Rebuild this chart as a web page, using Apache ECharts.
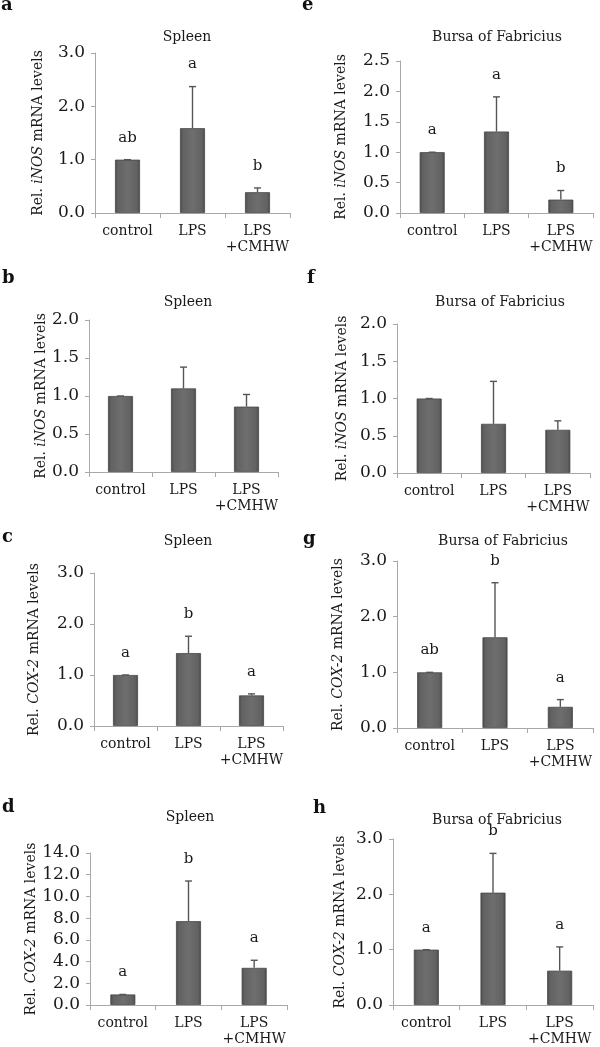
<!DOCTYPE html>
<html>
<head>
<meta charset="utf-8">
<script src="https://cdn.jsdelivr.net/npm/echarts@6/dist/echarts.min.js"></script>
<style>
html,body{margin:0;padding:0;background:#fff;}
#chart{width:600px;height:1047px;}
</style>
</head>
<body>
<div id="chart"></div>
<script>
// ---- data ----
const categories = ['control', 'LPS', 'LPS\n+CMHW'];

const aMean = [1.0, 1.59, 0.39];
const aSD   = [0.0, 0.78, 0.08];
const aSig  = ['ab', 'a', 'b'];

const eMean = [1.0, 1.34, 0.22];
const eSD   = [0.0, 0.57, 0.15];
const eSig  = ['a', 'a', 'b'];

const bMean = [1.0, 1.10, 0.86];
const bSD   = [0.0, 0.28, 0.16];

const fMean = [1.0, 0.66, 0.58];
const fSD   = [0.0, 0.57, 0.12];

const cMean = [1.0, 1.43, 0.60];
const cSD   = [0.0, 0.33, 0.03];
const cSig  = ['a', 'b', 'a'];

const gMean = [1.0, 1.63, 0.38];
const gSD   = [0.0, 0.98, 0.13];
const gSig  = ['ab', 'b', 'a'];

const dMean = [0.97, 7.72, 3.42];
const dSD   = [0.0, 3.70, 0.70];
const dSig  = ['a', 'b', 'a'];

const hMean = [1.0, 2.03, 0.62];
const hSD   = [0.0, 0.71, 0.43];
const hSig  = ['a', 'b', 'a'];

const yTicksA = {min: 0, max: 3, interval: 1};
const yTicksE = {min: 0, max: 2.5, interval: 0.5};
const yTicksB = {min: 0, max: 2, interval: 0.5};
const yTicksF = {min: 0, max: 2, interval: 0.5};
const yTicksC = {min: 0, max: 3, interval: 1};
const yTicksG = {min: 0, max: 3, interval: 1};
const yTicksD = {min: 0, max: 14, interval: 2};
const yTicksH = {min: 0, max: 3, interval: 1};

const nameINOS = 'Rel. {i|iNOS} mRNA levels';
const nameCOX  = 'Rel. {i|COX-2} mRNA levels';
const organSpleen = 'Spleen';
const organBursa  = 'Bursa of Fabricius';

// ---- layout ----
const FONT = 'DejaVu Serif';
const panels = [
  {letter:'a', mean:aMean, sd:aSD, sig:aSig, y:yTicksA, name:nameINOS, title:organSpleen,
   grid:{left:95, top:53, width:195, height:160}, nameGap:50, lx:1, ly:10, tx:187, ty:37},
  {letter:'e', mean:eMean, sd:eSD, sig:eSig, y:yTicksE, name:nameINOS, title:organBursa,
   grid:{left:400, top:61, width:193, height:152}, nameGap:52, lx:302, ly:10, tx:497, ty:37},
  {letter:'b', mean:bMean, sd:bSD, sig:null, y:yTicksB, name:nameINOS, title:organSpleen,
   grid:{left:89, top:320, width:189, height:152}, nameGap:41, lx:2, ly:283, tx:188, ty:302},
  {letter:'f', mean:fMean, sd:fSD, sig:null, y:yTicksF, name:nameINOS, title:organBursa,
   grid:{left:397, top:324, width:193, height:149}, nameGap:48, lx:307, ly:283, tx:500, ty:302},
  {letter:'c', mean:cMean, sd:cSD, sig:cSig, y:yTicksC, name:nameCOX, title:organSpleen,
   grid:{left:94, top:573, width:189, height:153}, nameGap:53, lx:2, ly:542, tx:188, ty:541},
  {letter:'g', mean:gMean, sd:gSD, sig:gSig, y:yTicksG, name:nameCOX, title:organBursa,
   grid:{left:397, top:561, width:196, height:167}, nameGap:52, lx:303, ly:544, tx:503, ty:541},
  {letter:'d', mean:dMean, sd:dSD, sig:dSig, y:yTicksD, name:nameCOX, title:organSpleen,
   grid:{left:90, top:853, width:197, height:152}, nameGap:50, lx:2, ly:812, tx:190, ty:817},
  {letter:'h', mean:hMean, sd:hSD, sig:hSig, y:yTicksH, name:nameCOX, title:organBursa,
   grid:{left:393, top:839, width:200, height:168}, nameGap:46, lx:313, ly:813, tx:497, ty:820}
];

const axisGray = '#a8a8a8';
const textColor = '#1a1a1a';
const barFill = {
  type:'linear', x:0, y:0, x2:1, y2:0,
  colorStops:[
    {offset:0, color:'#4a4a4a'},
    {offset:0.12, color:'#626262'},
    {offset:0.5, color:'#6e6e6e'},
    {offset:0.88, color:'#626262'},
    {offset:1, color:'#4a4a4a'}
  ]
};

const option = {
  animation:false,
  backgroundColor:'#fff',
  grid:[], xAxis:[], yAxis:[], series:[], graphic:[]
};

panels.forEach((p, i) => {
  option.grid.push(Object.assign({containLabel:false}, p.grid));
  option.xAxis.push({
    type:'category', gridIndex:i, data:categories,
    axisLine:{lineStyle:{color:axisGray, width:1}},
    axisTick:{show:true, length:5, lineStyle:{color:axisGray}},
    axisLabel:{color:textColor, fontFamily:FONT, fontSize:14, lineHeight:16, margin:10, interval:0}
  });
  option.yAxis.push({
    type:'value', gridIndex:i, min:p.y.min, max:p.y.max, interval:p.y.interval,
    name:p.name, nameLocation:'middle', nameGap:p.nameGap,
    nameTextStyle:{color:textColor, fontFamily:FONT, fontSize:14,
      rich:{i:{fontStyle:'italic', fontFamily:FONT, fontSize:14, color:textColor}}},
    axisLine:{show:true, lineStyle:{color:axisGray, width:1}},
    axisTick:{show:true, length:4, lineStyle:{color:axisGray}},
    splitLine:{show:false},
    axisLabel:{color:textColor, fontFamily:FONT, fontSize:17, margin:10,
      formatter:v => v.toFixed(1)}
  });
  option.series.push({
    type:'bar', xAxisIndex:i, yAxisIndex:i, data:p.mean, barWidth:25,
    itemStyle:{color:barFill, borderColor:'#484848', borderWidth:0.8}
  });
  option.series.push({
    type:'custom', xAxisIndex:i, yAxisIndex:i,
    data:p.mean.map((m, k) => [k, m, p.sd[k], p.sig ? p.sig[k] : '']),
    encode:{x:0, y:1},
    z:5,
    renderItem:(params, api) => {
      const k = api.value(0), m = api.value(1), s = api.value(2);
      const sig = p.sig ? p.sig[k] : '';
      const base = api.coord([k, m]);
      const top = api.coord([k, m + s]);
      const style = {stroke:'#555', lineWidth:1.4};
      const children = [
        {type:'line', shape:{x1:base[0], y1:base[1], x2:top[0], y2:top[1]}, style:style},
        {type:'line', shape:{x1:top[0]-3.5, y1:top[1], x2:top[0]+3.5, y2:top[1]}, style:style}
      ];
      if (sig) {
        children.push({type:'text', style:{text:sig, x:top[0], y:top[1]-22,
          textAlign:'center', textVerticalAlign:'middle',
          font:'15px "' + FONT + '"', fill:textColor}});
      }
      return {type:'group', children:children};
    }
  });
  option.graphic.push({
    type:'text', left:p.lx, top:p.ly - 14,
    style:{text:p.letter, font:'bold 18px "' + FONT + '"', fill:'#111'}
  });
  option.graphic.push({
    type:'text', x:p.tx, y:p.ty,
    style:{text:p.title, font:'14px "' + FONT + '"', fill:textColor,
      textAlign:'center', textVerticalAlign:'middle'}
  });
});

const chart = echarts.init(document.getElementById('chart'), null, {renderer:'canvas'});
chart.setOption(option);
</script>
</body>
</html>
